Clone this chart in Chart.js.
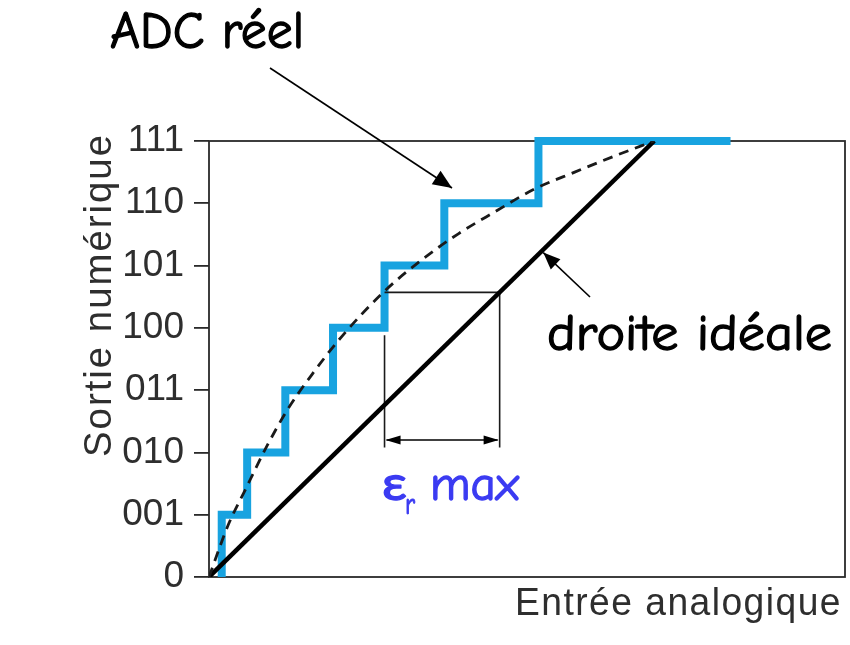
<!DOCTYPE html>
<html>
<head>
<meta charset="utf-8">
<script src="https://cdn.jsdelivr.net/npm/chart.js@4.4.1/dist/chart.umd.min.js"></script>
<style>
  html, body { margin: 0; padding: 0; background: #fff; }
  canvas { display: block; }
</style>
</head>
<body>
<canvas id="adcChart" width="850" height="645"></canvas>
<script>
// codes de sortie (axe vertical)
var codeLabels = ['0', '001', '010', '011', '100', '101', '110', '111'];
// entrée (en LSB) où le convertisseur réel passe au code suivant
var stepEdges = [0.2, 0.6, 1.2, 1.95, 2.76, 3.7, 5.18];
var stepEnd = 8.2;
// courbe de transfert réelle (pointillés)
var curveX = [0, 0.3, 0.57, 0.92, 1.23, 1.64, 2.07, 2.75, 3.33, 3.92, 4.49, 5.12, 5.75, 6.38, 7.0];
var curveY = [0, 0.83, 1.4, 2.12, 2.68, 3.28, 3.84, 4.58, 5.08, 5.51, 5.86, 6.23, 6.5, 6.76, 7.0];
// droite idéale
var idealX = [0, 7];
var idealY = [0, 7];
// erreur de linéarité max : niveau, fin du segment, bas des repères, niveau de la flèche
var errLevel = 4.57;
var errTo = 4.57;
var errLeftTop = 3.88;
var errBottom = 2.08;
var errArrow = 2.2;

var blue = '#18a3e0';
var ink = '#1a1a1a';
var errFrom = stepEdges[4];

// construction de l'escalier à partir des seuils
var stairs = [{ x: stepEdges[0], y: 0 }];
stepEdges.forEach(function (x, i) {
  var next = i + 1 < stepEdges.length ? stepEdges[i + 1] : stepEnd;
  stairs.push({ x: x, y: i + 1 }, { x: next, y: i + 1 });
});

function pts(xs, ys) {
  return xs.map(function (x, i) { return { x: x, y: ys[i] }; });
}

function thinLine(data) {
  return {
    data: data,
    showLine: true,
    borderColor: ink,
    borderWidth: 1.6,
    pointRadius: 0,
    clip: false
  };
}

// texte ajusté à une largeur donnée (stroke > 0 : trait un peu plus gras)
function fitText(ctx, str, x, y, font, color, width, spacing, angle, stroke) {
  ctx.save();
  ctx.font = font;
  ctx.fillStyle = color;
  ctx.strokeStyle = color;
  ctx.textAlign = 'left';
  ctx.textBaseline = 'alphabetic';
  if ('letterSpacing' in ctx) ctx.letterSpacing = (spacing || 0) + 'px';
  var w = ctx.measureText(str).width;
  ctx.translate(x, y);
  if (angle) ctx.rotate(angle);
  ctx.scale(width / w, 1);
  ctx.fillText(str, 0, 0);
  if (stroke) {
    ctx.lineWidth = stroke;
    ctx.lineJoin = 'round';
    ctx.strokeText(str, 0, 0);
  }
  ctx.restore();
}

function arrowHead(ctx, x0, y0, x1, y1, len, half) {
  var a = Math.atan2(y1 - y0, x1 - x0);
  ctx.save();
  ctx.translate(x1, y1);
  ctx.rotate(a);
  ctx.beginPath();
  ctx.moveTo(0, 0);
  ctx.lineTo(-len, -half);
  ctx.lineTo(-len, half);
  ctx.closePath();
  ctx.fill();
  ctx.restore();
}

function arrow(ctx, x0, y0, x1, y1, len, half) {
  ctx.beginPath();
  ctx.moveTo(x0, y0);
  ctx.lineTo(x1, y1);
  ctx.stroke();
  arrowHead(ctx, x0, y0, x1, y1, len, half);
}

var comic = '"Comic Sans MS", "Comic Neue", Lato, sans-serif';
var sans = '"Liberation Sans", Arial, sans-serif';

var annotations = {
  id: 'annotations',
  beforeDatasetsDraw: function (chart) {
    var ctx = chart.ctx, a = chart.chartArea;
    ctx.save();
    ctx.strokeStyle = '#2a2a2a';
    ctx.lineWidth = 1.8;
    ctx.strokeRect(a.left, a.top, a.right - a.left, a.bottom - a.top);
    ctx.restore();
  },
  afterDatasetsDraw: function (chart) {
    var ctx = chart.ctx;
    var sx = chart.scales.x, sy = chart.scales.y;
    ctx.save();
    ctx.strokeStyle = '#000';
    ctx.fillStyle = '#000';
    ctx.lineWidth = 1.6;

    // flèche double de l'erreur
    var ya = sy.getPixelForValue(errArrow);
    var xa = sx.getPixelForValue(errFrom), xb = sx.getPixelForValue(errTo);
    ctx.beginPath();
    ctx.moveTo(xa + 2, ya);
    ctx.lineTo(xb - 2, ya);
    ctx.stroke();
    arrowHead(ctx, xb, ya, xa + 1, ya, 15, 4.5);
    arrowHead(ctx, xa, ya, xb - 1, ya, 15, 4.5);

    // flèches des légendes
    arrow(ctx, 270, 68, 452, 188, 19, 8);
    arrow(ctx, 590, 297, sx.getPixelForValue(5.24) + 1, sy.getPixelForValue(5.24) + 2, 17, 7);
    ctx.restore();

    // légendes manuscrites
    fitText(ctx, 'ADC réel', 110, 48, '52px ' + comic, '#000', 194, 0, 0, 1.3);
    fitText(ctx, 'droite idéale', 547, 350, '51px ' + comic, '#000', 285, 0, 0, 1.3);
    fitText(ctx, 'ε', 382, 500, '48px ' + comic, '#3b3bf2', 25, 0, 0, 1.3);
    fitText(ctx, 'r', 405, 514, '30px ' + comic, '#3b3bf2', 10, 0, 0, 1);
    fitText(ctx, 'max', 430, 500, '48px ' + comic, '#3b3bf2', 89, 0, 0, 1.3);

    // titres des axes
    fitText(ctx, 'Entrée analogique', 515, 615, '38px ' + sans, '#2e2e2e', 327, 1.5);
    fitText(ctx, 'Sortie numérique', 111, 457, '38px ' + sans, '#2e2e2e', 324, 2, -Math.PI / 2);
  }
};

new Chart(document.getElementById('adcChart'), {
  type: 'scatter',
  data: {
    datasets: [
      {
        // caractéristique réelle lissée
        data: pts(curveX, curveY),
        showLine: true,
        borderColor: ink,
        borderWidth: 2.8,
        borderDash: [10, 7],
        cubicInterpolationMode: 'monotone',
        pointRadius: 0
      },
      {
        data: pts(idealX, idealY),
        showLine: true,
        borderColor: '#000',
        borderWidth: 4.5,
        pointRadius: 0
      },
      thinLine([{ x: errFrom, y: errLevel }, { x: errTo, y: errLevel }]),
      thinLine([{ x: errFrom, y: errLeftTop }, { x: errFrom, y: errBottom }]),
      thinLine([{ x: errTo, y: errLevel }, { x: errTo, y: errBottom }]),
      {
        // ADC réel en escalier
        data: stairs,
        showLine: true,
        borderColor: blue,
        borderWidth: 8,
        borderJoinStyle: 'miter',
        borderCapStyle: 'butt',
        pointRadius: 0,
        clip: false
      }
    ]
  },
  options: {
    responsive: false,
    animation: false,
    layout: { padding: { top: 141, right: 5, left: 0, bottom: 0 } },
    plugins: {
      legend: { display: false },
      tooltip: { enabled: false }
    },
    scales: {
      x: {
        type: 'linear',
        min: 0,
        max: 10,
        grid: { display: false },
        border: { display: false },
        ticks: { display: false },
        afterFit: function (s) { s.height = 68; }
      },
      y: {
        type: 'linear',
        min: 0,
        max: 7,
        border: { display: false },
        grid: {
          drawOnChartArea: false,
          drawTicks: true,
          tickLength: 15,
          color: '#2a2a2a',
          lineWidth: 1.8
        },
        ticks: {
          stepSize: 1,
          padding: 10,
          color: '#2e2e2e',
          font: { family: sans, size: 37 },
          callback: function (v) { return codeLabels[v]; }
        },
        afterFit: function (s) { s.width = 209; }
      }
    }
  },
  plugins: [annotations]
});
</script>
</body>
</html>
